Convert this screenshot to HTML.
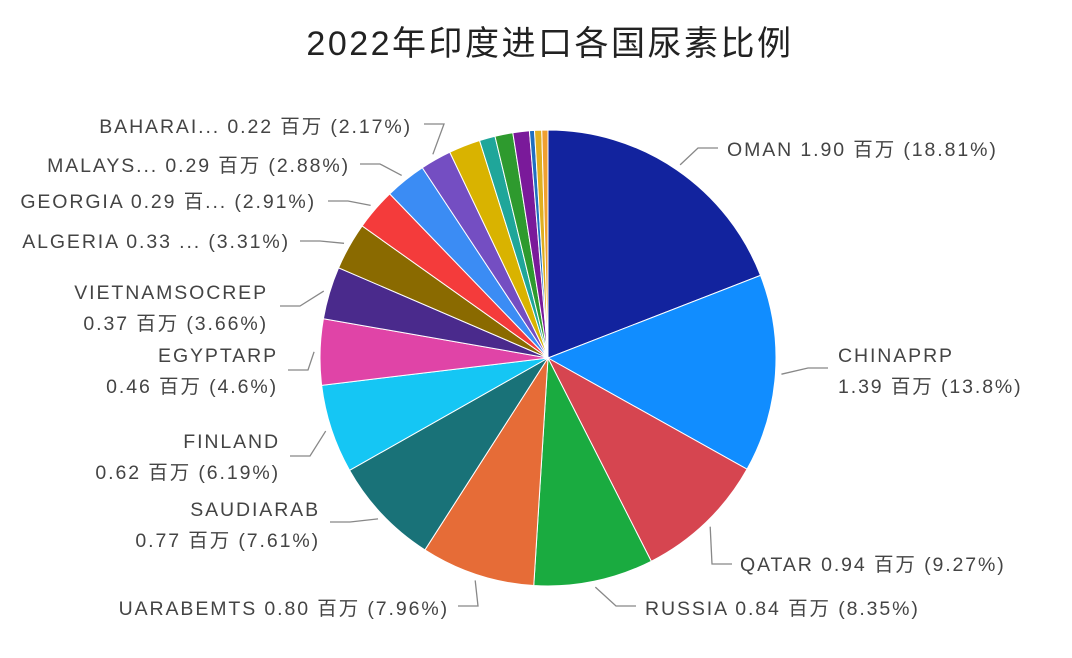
<!DOCTYPE html>
<html><head><meta charset="utf-8"><style>
html,body{margin:0;padding:0;background:#fff;}
svg{display:block;}
text{font-family:"Liberation Sans","Noto Sans CJK SC",sans-serif;fill:#444;}
</style></head><body>
<svg id="chart" width="1072" height="658">
<text x="550" y="55" text-anchor="middle" font-size="34" letter-spacing="2.5" style="fill:#222">2022年印度进口各国尿素比例</text>
<g id="slices"></g><g id="labels"></g>
</svg>
<script>
const countries=["OMAN","CHINAPRP","QATAR","RUSSIA","UARABEMTS","SAUDIARAB","FINLAND","EGYPTARP","VIETNAMSOCREP","ALGERIA","GEORGIA","MALAYS","BAHARAI","O1","O2","O3","O4","O5","O6","O7"];
const shares=[18.81,13.8,9.27,8.35,7.96,7.61,6.19,4.6,3.66,3.31,2.91,2.88,2.17,2.2,1.1,1.25,1.15,0.35,0.5,0.43];
const colors=["#12239e","#118dff","#d64550","#1aab40","#e66c37","#197278","#15c6f4","#e044a7","#4a2a8c","#8a6a00","#f43b3b","#3b8cf4","#744ec2","#d9b300","#1fa69a","#2e9a2e","#7a1a9a","#1f6fc0","#e0b020","#f0a030"];
const labelText=[
 ["OMAN 1.90 百万 (18.81%)"],["CHINAPRP","1.39 百万 (13.8%)"],["QATAR 0.94 百万 (9.27%)"],["RUSSIA 0.84 百万 (8.35%)"],
 ["UARABEMTS 0.80 百万 (7.96%)"],["SAUDIARAB","0.77 百万 (7.61%)"],["FINLAND","0.62 百万 (6.19%)"],["EGYPTARP","0.46 百万 (4.6%)"],
 ["VIETNAMSOCREP","0.37 百万 (3.66%)"],["ALGERIA 0.33 ... (3.31%)"],["GEORGIA 0.29 百... (2.91%)"],["MALAYS... 0.29 百万 (2.88%)"],["BAHARAI... 0.22 百万 (2.17%)"]];
const labelPos=[[727,156,"start",718,148],[838,362,"start",828,368],[740,571,"start",732,564],[645,615,"start",636,606],
 [449,615,"end",458,606],[320,516,"end",330,522],[280,448,"end",290,456],[278,362,"end",288,370],
 [268,299,"end",280,306],[290,248,"end",300,241],[316,208,"end",328,201],[350,172,"end",360,164],[412,133,"end",424,124]];
const cx=548,cy=358,R=228,NS="http://www.w3.org/2000/svg";
const total=shares.reduce((a,b)=>a+b,0);
const sg=document.getElementById('slices'),lg=document.getElementById('labels');
function pt(a,r){return [cx+r*Math.sin(a),cy-r*Math.cos(a)];}
let a0=0;
shares.forEach((s,i)=>{
 const a1=a0+s/total*2*Math.PI;
 const p0=pt(a0,R),p1=pt(a1,R);
 const p=document.createElementNS(NS,'path');
 p.setAttribute('d',`M${cx},${cy}L${p0[0]},${p0[1]}A${R},${R} 0 ${a1-a0>Math.PI?1:0} 1 ${p1[0]},${p1[1]}Z`);
 p.setAttribute('fill',colors[i]);p.setAttribute('stroke','#fff');p.setAttribute('stroke-width','1');
 
 
 sg.appendChild(p);
 if(i<labelText.length){
  const m=(a0+a1)/2,q=pt(m,R+6),lp=labelPos[i];
  const ex=lp[2]==="start"?lp[3]-20:lp[3]+20;
  const l=document.createElementNS(NS,'polyline');
  l.setAttribute('points',`${q[0]},${q[1]} ${ex},${lp[4]} ${lp[3]},${lp[4]}`);
  l.setAttribute('fill','none');l.setAttribute('stroke','#888');l.setAttribute('stroke-width','1.3');
  
  
  lg.appendChild(l);
  labelText[i].forEach((t,k)=>{
   const tx=document.createElementNS(NS,'text');
   tx.setAttribute('x',lp[0]);tx.setAttribute('y',lp[1]+k*31);tx.setAttribute('text-anchor',lp[2]);tx.setAttribute('font-size','19.5');tx.setAttribute('letter-spacing','1.9');
   tx.textContent=t;
   
   
   lg.appendChild(tx);
  });
 }
 a0=a1;
});
</script>
</body></html>
